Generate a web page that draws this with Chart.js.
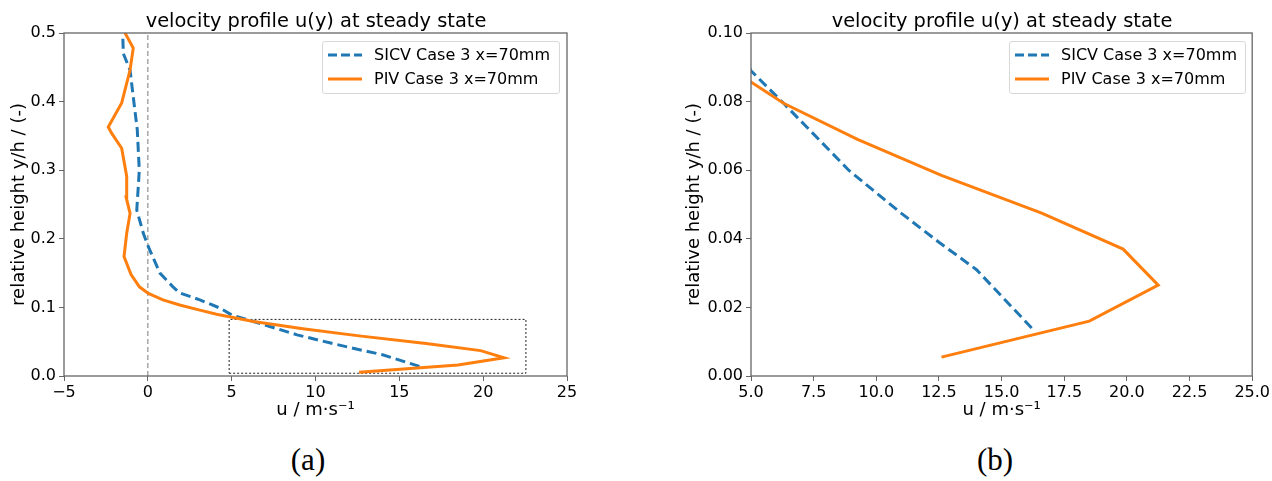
<!DOCTYPE html>
<html lang="en">
<head>
    <meta charset="UTF-8">
    <title>velocity profile u(y) at steady state</title>
    <script src="https://cdn.jsdelivr.net/npm/chart.js"></script>
    <style>
        body {
            margin: 0;
            background: #fff;
            font-family: "DejaVu Sans", sans-serif;
        }
        .panel {
            position: absolute;
            top: 0;
            height: 425px;
        }
        .title {
            position: absolute;
            top: 11px;
            font-size: 19.4px;
            line-height: 1;
            white-space: nowrap;
            transform: translateX(-50%);
        }
        .legend {
            position: absolute;
            top: 41px;
            height: 51px;
            border: 1px solid #d8d8d8;
            border-radius: 3px;
            background: rgba(255, 255, 255, 0.8);
            font-size: 16px;
            color: #000;
        }
        .legend svg {
            position: absolute;
            left: 5px;
        }
        .legend span {
            position: absolute;
            left: 51px;
            line-height: 20px;
            white-space: nowrap;
        }
        .caption {
            position: absolute;
            top: 444px;
            font-family: "Liberation Serif", serif;
            font-size: 31px;
            line-height: 1;
            transform: translateX(-50%);
        }
    </style>
</head>
<body>
    <div class="panel" style="left:0; width:600px;"><canvas id="chartA"></canvas></div>
    <div class="panel" style="left:680px; width:592px;"><canvas id="chartB"></canvas></div>

    <div class="title" style="left:316px;">velocity profile u(y) at steady state</div>
    <div class="title" style="left:1002px;">velocity profile u(y) at steady state</div>

    <div class="legend" style="left:322px; width:236px;">
        <svg width="34" height="4" style="top:11px;"><line x1="0" y1="2" x2="34" y2="2" stroke="#1f77b4" stroke-width="3" stroke-dasharray="9,4"/></svg>
        <span style="top:3px;">SICV Case 3 x=70mm</span>
        <svg width="34" height="4" style="top:35px;"><line x1="0" y1="2" x2="34" y2="2" stroke="#ff7f0e" stroke-width="3"/></svg>
        <span style="top:27px;">PIV Case 3 x=70mm</span>
    </div>
    <div class="legend" style="left:1009px; width:235px;">
        <svg width="34" height="4" style="top:11px;"><line x1="0" y1="2" x2="34" y2="2" stroke="#1f77b4" stroke-width="3" stroke-dasharray="9,4"/></svg>
        <span style="top:3px;">SICV Case 3 x=70mm</span>
        <svg width="34" height="4" style="top:35px;"><line x1="0" y1="2" x2="34" y2="2" stroke="#ff7f0e" stroke-width="3"/></svg>
        <span style="top:27px;">PIV Case 3 x=70mm</span>
    </div>

    <div class="caption" style="left:308px;">(a)</div>
    <div class="caption" style="left:995px;">(b)</div>

    <script>
        // SICV profile (dashed blue), ordered from wall upwards
        const uSicv = [16.2, 14.0, 12.5, 10.9, 8.9, 6.3, 5.0, 4.3, 3.1, 1.9, 1.5, 0.72, 0.03, -0.27, -0.66, -0.57, -0.51, -0.63, -0.87, -1.06, -1.46, -1.5];
        const ySicv = [0.014, 0.031, 0.039, 0.048, 0.060, 0.0795, 0.089, 0.099, 0.111, 0.121, 0.130, 0.150, 0.1885, 0.208, 0.242, 0.276, 0.300, 0.359, 0.407, 0.446, 0.470, 0.4985];

        // PIV profile (solid orange)
        const uPiv = [12.6, 18.5, 21.25, 19.85, 16.6, 12.6, 9.25, 6.3, 4.1, 3.1, 1.9, 0.9, 0.03, -0.5, -1.0, -1.42, -1.26, -1.06, -1.3, -1.26, -1.56, -2.16, -2.36, -1.56, -1.06, -0.87, -1.36];
        const yPiv = [0.0055, 0.016, 0.0265, 0.037, 0.0475, 0.0585, 0.069, 0.0795, 0.090, 0.096, 0.1035, 0.111, 0.1205, 0.130, 0.148, 0.174, 0.208, 0.237, 0.261, 0.291, 0.332, 0.354, 0.363, 0.398, 0.446, 0.478, 0.5];

        // u = 0 reference line and the zoom window shown in (b)
        const zeroU = [0, 0];
        const zeroY = [0, 0.5];
        const boxU = [4.85, 22.55, 22.55, 4.85, 4.85];
        const boxY = [0.004, 0.004, 0.0825, 0.0825, 0.004];

        const toPoints = (xs, ys) => xs.map((x, i) => ({ x: x, y: ys[i] }));

        Chart.defaults.font.family = '"DejaVu Sans", sans-serif';
        Chart.defaults.font.size = 16;
        Chart.defaults.color = '#000';

        // draw all four spines like matplotlib
        const frame = {
            id: 'frame',
            afterDatasetsDraw(chart) {
                const a = chart.chartArea;
                const ctx = chart.ctx;
                ctx.save();
                ctx.strokeStyle = '#666';
                ctx.lineWidth = 1.3;
                ctx.strokeRect(a.left, a.top, a.right - a.left, a.bottom - a.top);
                ctx.restore();
            }
        };

        function lineSet(xs, ys, color, width, dash) {
            return {
                data: toPoints(xs, ys),
                showLine: true,
                borderColor: color,
                borderWidth: width,
                borderDash: dash,
                pointRadius: 0,
                fill: false,
                tension: 0
            };
        }

        function makeChart(id, cfg) {
            const ctx = document.getElementById(id).getContext('2d');
            return new Chart(ctx, {
                type: 'scatter',
                data: { datasets: cfg.datasets },
                plugins: [frame],
                options: {
                    responsive: true,
                    maintainAspectRatio: false,
                    animation: false,
                    events: [],
                    layout: { padding: { left: 0, right: cfg.padRight, top: 33, bottom: 0 } },
                    plugins: {
                        legend: { display: false },
                        tooltip: { enabled: false },
                        title: { display: false }
                    },
                    scales: {
                        x: {
                            type: 'linear',
                            min: cfg.xMin,
                            max: cfg.xMax,
                            afterFit: s => { s.height = 49; },
                            border: { display: false },
                            grid: { drawOnChartArea: false, color: '#666', tickLength: 5 },
                            ticks: { stepSize: cfg.xStep, padding: 2, maxRotation: 0, callback: cfg.xFmt },
                            title: { display: true, text: 'u / m\u00b7s\u207b\u00b9', font: { size: 18 }, padding: { top: 0, bottom: 4 } }
                        },
                        y: {
                            type: 'linear',
                            min: cfg.yMin,
                            max: cfg.yMax,
                            afterFit: s => { s.width = cfg.yWidth; },
                            border: { display: false },
                            grid: { drawOnChartArea: false, color: '#666', tickLength: 5 },
                            ticks: { stepSize: cfg.yStep, padding: 3, callback: cfg.yFmt },
                            title: { display: true, text: 'relative height y/h / (-)', font: { size: 18 }, padding: { top: cfg.yTitlePad, bottom: 0 } }
                        }
                    }
                }
            });
        }

        const minusFmt = v => (v < 0 ? '\u2212' + Math.abs(v) : String(v));

        makeChart('chartA', {
            datasets: [
                lineSet(uPiv, yPiv, '#ff7f0e', 3, []),
                lineSet(uSicv, ySicv, '#1f77b4', 3, [10, 5]),
                lineSet(zeroU, zeroY, '#999', 1.3, [5, 3]),
                lineSet(boxU, boxY, '#222', 1, [2, 2])
            ],
            xMin: -5, xMax: 25, xStep: 5, xFmt: minusFmt,
            yMin: 0, yMax: 0.5, yStep: 0.1, yFmt: v => v.toFixed(1),
            yWidth: 64, yTitlePad: 9, padRight: 33
        });

        makeChart('chartB', {
            datasets: [
                lineSet(uPiv, yPiv, '#ff7f0e', 3, []),
                lineSet(uSicv, ySicv, '#1f77b4', 3, [10, 5])
            ],
            xMin: 5, xMax: 25, xStep: 2.5, xFmt: v => v.toFixed(1),
            yMin: 0, yMax: 0.1, yStep: 0.02, yFmt: v => v.toFixed(2),
            yWidth: 71, yTitlePad: 4, padRight: 19
        });
    </script>
</body>
</html>
